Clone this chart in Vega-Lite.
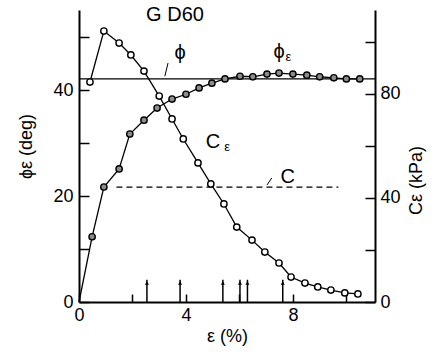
{
  "$schema": "https://vega.github.io/schema/vega-lite/v6.json",
  "width": 296,
  "height": 292,
  "autosize": {"type": "none"},
  "padding": {"left": 79, "top": 10, "right": 67, "bottom": 53},
  "background": "white",
  "config": {
    "view": {"stroke": null},
    "font": "Liberation Sans",
    "axis": {
      "grid": false,
      "domainColor": "black",
      "domainWidth": 2,
      "tickColor": "black",
      "tickWidth": 1.5,
      "labelColor": "black",
      "labelFontSize": 18,
      "labelFont": "Liberation Sans",
      "titleColor": "black",
      "titleFontSize": 18,
      "titleFontWeight": "normal",
      "titleFont": "Liberation Sans"
    }
  },
  "encoding": {
    "x": {
      "field": "eps",
      "type": "quantitative",
      "scale": {"domain": [0, 11.07], "nice": false, "zero": false},
      "axis": {
        "values": [0, 2, 4, 6, 8, 10],
        "labelExpr": "datum.value % 4 === 0 ? datum.label : ''",
        "tickSize": -8,
        "labelPadding": 12,
        "title": "ε (%)",
        "titlePadding": 3,
        "labelFlush": false
      }
    }
  },
  "layer": [
    {
      "encoding": {
        "y": {
          "field": "deg",
          "type": "quantitative",
          "scale": {"domain": [0, 55.1], "nice": false},
          "axis": {
            "orient": "left",
            "values": [0, 10, 20, 30, 40, 50],
            "labelExpr": "datum.value % 20 === 0 ? datum.label : ''",
            "tickSize": -10,
            "labelPadding": 16,
            "title": "ϕε (deg)",
            "titleAngle": -90,
            "titleX": -53,
            "titleY": 136,
            "titleAlign": "center",
            "titleBaseline": "middle",
            "labelFlush": false
          }
        }
      },
      "layer": [
        {
          "data": {"values": [{"eps": 0, "deg": 42.1}, {"eps": 11.07, "deg": 42.1}]},
          "mark": {"type": "line", "color": "black", "strokeWidth": 1.3}
        },
        {
          "data": {"name": "phiE"},
          "mark": {"type": "line", "color": "black", "strokeWidth": 1.3}
        },
        {
          "data": {"name": "phiE"},
          "transform": [{"filter": "datum.eps > 0"}],
          "mark": {"type": "point", "shape": "circle", "filled": true, "fill": "#8c8c8c", "stroke": "black", "strokeWidth": 1.4, "size": 40, "opacity": 1}
        },
        {
          "data": {"values": [
            {"eps": 2.54, "deg": 4.2}, {"eps": 3.78, "deg": 4.2}, {"eps": 5.38, "deg": 4.2},
            {"eps": 6.02, "deg": 4.2}, {"eps": 6.3, "deg": 4.2}, {"eps": 7.62, "deg": 4.2}
          ]},
          "mark": {"type": "rule", "color": "black", "strokeWidth": 1.5},
          "encoding": {"y2": {"datum": 0}}
        },
        {
          "data": {"values": [
            {"eps": 2.54, "deg": 3.6}, {"eps": 3.78, "deg": 3.6}, {"eps": 5.38, "deg": 3.6},
            {"eps": 6.02, "deg": 3.6}, {"eps": 6.3, "deg": 3.6}, {"eps": 7.62, "deg": 3.6}
          ]},
          "mark": {"type": "point", "shape": "triangle-up", "filled": true, "color": "black", "size": 16, "opacity": 1}
        },
        {
          "data": {"values": [{"eps": 3.33, "deg": 45.1, "eps2": 3.21, "deg2": 42.6}]},
          "mark": {"type": "rule", "color": "black", "strokeWidth": 1},
          "encoding": {"x2": {"field": "eps2"}, "y2": {"field": "deg2"}}
        },
        {
          "data": {"values": [{"eps": 3.59, "deg": 54.2, "label": "G D60"}]},
          "mark": {"type": "text", "fontSize": 20, "font": "Liberation Sans", "color": "black", "align": "center", "baseline": "middle"},
          "encoding": {"text": {"field": "label"}}
        },
        {
          "data": {"values": [
            {"eps": 3.78, "deg": 47.0, "label": "ϕ"},
            {"eps": 7.48, "deg": 47.2, "label": "ϕ"},
            {"eps": 5.01, "deg": 30.2, "label": "C"},
            {"eps": 7.81, "deg": 23.6, "label": "C"}
          ]},
          "mark": {"type": "text", "fontSize": 20, "font": "Liberation Sans", "color": "black", "align": "center", "baseline": "middle"},
          "encoding": {"text": {"field": "label"}}
        },
        {
          "data": {"values": [
            {"eps": 7.83, "deg": 46.2, "label": "ε"},
            {"eps": 5.54, "deg": 29.2, "label": "ε"}
          ]},
          "mark": {"type": "text", "fontSize": 13, "font": "Liberation Sans", "color": "black", "align": "center", "baseline": "middle"},
          "encoding": {"text": {"field": "label"}}
        }
      ]
    },
    {
      "encoding": {
        "y": {
          "field": "kpa",
          "type": "quantitative",
          "scale": {"domain": [0, 112.3], "nice": false},
          "axis": {
            "orient": "right",
            "values": [0, 20, 40, 60, 80, 100],
            "labelExpr": "datum.value % 40 === 0 ? datum.label : ''",
            "tickSize": -10,
            "labelPadding": 15,
            "title": "Cε (kPa)",
            "titleAngle": -90,
            "titleX": 41,
            "titleY": 170,
            "titleAlign": "center",
            "titleBaseline": "middle",
            "labelFlush": false
          }
        }
      },
      "layer": [
        {
          "data": {"values": [{"eps": 1.4, "kpa": 44.2}, {"eps": 9.7, "kpa": 44.2}]},
          "mark": {"type": "line", "color": "black", "strokeWidth": 1.3, "strokeDash": [6, 4]}
        },
        {
          "data": {"values": [{"eps": 7.21, "kpa": 47.7, "eps2": 7.03, "kpa2": 45.0}]},
          "mark": {"type": "rule", "color": "black", "strokeWidth": 1},
          "encoding": {"x2": {"field": "eps2"}, "y2": {"field": "kpa2"}}
        },
        {
          "data": {"name": "cE"},
          "mark": {"type": "line", "color": "black", "strokeWidth": 1.3}
        },
        {
          "data": {"name": "cE"},
          "mark": {"type": "point", "shape": "circle", "filled": true, "fill": "white", "stroke": "black", "strokeWidth": 1.4, "size": 40, "opacity": 1}
        }
      ]
    }
  ],
  "resolve": {"scale": {"y": "independent"}, "axis": {"y": "independent"}},
  "datasets": {
    "phiE": [
      {"eps": 0, "deg": 0},
      {"eps": 0.49, "deg": 12.3},
      {"eps": 0.93, "deg": 21.7},
      {"eps": 1.5, "deg": 25.1},
      {"eps": 1.9, "deg": 31.7},
      {"eps": 2.43, "deg": 34.3},
      {"eps": 2.92, "deg": 36.6},
      {"eps": 3.48, "deg": 38.3},
      {"eps": 4.0, "deg": 39.2},
      {"eps": 4.49, "deg": 40.4},
      {"eps": 4.97, "deg": 41.3},
      {"eps": 5.46, "deg": 42.1},
      {"eps": 6.02, "deg": 42.6},
      {"eps": 6.5, "deg": 42.5},
      {"eps": 7.03, "deg": 43.0},
      {"eps": 7.48, "deg": 43.2},
      {"eps": 8.0, "deg": 43.0},
      {"eps": 8.52, "deg": 42.8},
      {"eps": 9.0, "deg": 42.5},
      {"eps": 9.53, "deg": 42.3},
      {"eps": 10.0, "deg": 42.1},
      {"eps": 10.5, "deg": 42.1}
    ],
    "cE": [
      {"eps": 0.41, "kpa": 84.6},
      {"eps": 0.93, "kpa": 104.2},
      {"eps": 1.5, "kpa": 99.6},
      {"eps": 1.94, "kpa": 95.0},
      {"eps": 2.43, "kpa": 88.8},
      {"eps": 3.0, "kpa": 79.2},
      {"eps": 3.48, "kpa": 70.4},
      {"eps": 3.9, "kpa": 62.7},
      {"eps": 4.45, "kpa": 53.5},
      {"eps": 4.93, "kpa": 45.4},
      {"eps": 5.42, "kpa": 37.7},
      {"eps": 5.9, "kpa": 28.8},
      {"eps": 6.47, "kpa": 23.8},
      {"eps": 6.95, "kpa": 19.2},
      {"eps": 7.48, "kpa": 15.0},
      {"eps": 7.93, "kpa": 9.6},
      {"eps": 8.45, "kpa": 7.3},
      {"eps": 8.93, "kpa": 5.8},
      {"eps": 9.42, "kpa": 4.6},
      {"eps": 9.94, "kpa": 3.5},
      {"eps": 10.43, "kpa": 3.1}
    ]
  }
}
